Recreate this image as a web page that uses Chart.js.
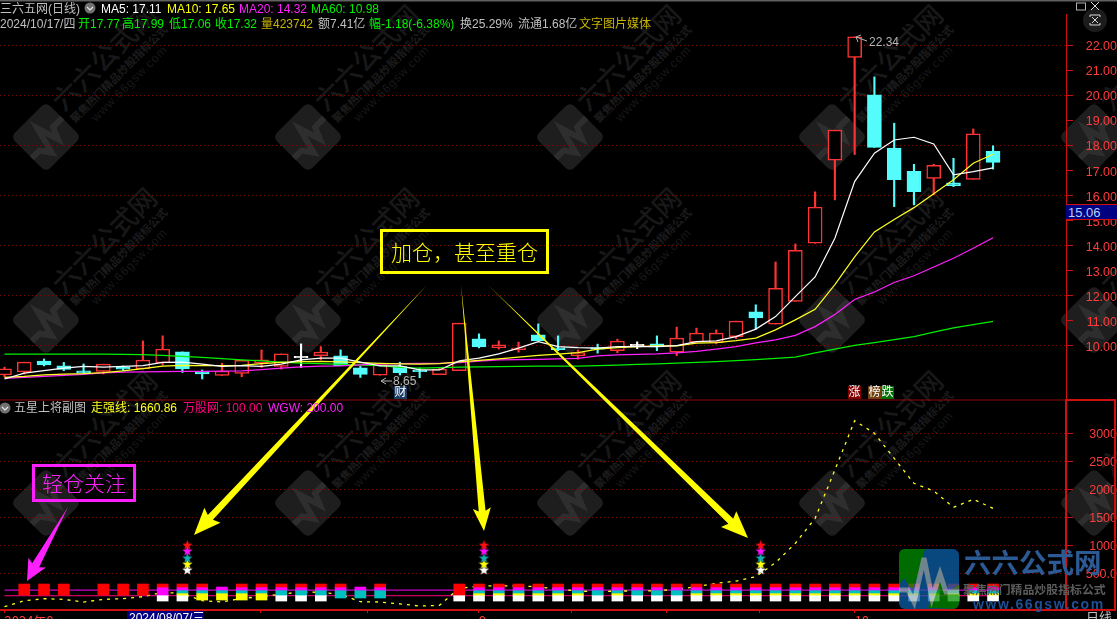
<!DOCTYPE html>
<html>
<head>
<meta charset="utf-8">
<title>三六五网 日线</title>
<script src="https://cdn.jsdelivr.net/npm/chart.js@4/dist/chart.umd.min.js"></script>
<style>
  html, body { margin: 0; padding: 0; background: #000; overflow: hidden; }
  #stage { position: relative; width: 1117px; height: 619px; overflow: hidden; font: 12px "Liberation Sans", "Noto Sans CJK SC", sans-serif; }
  #marks, #watermark, #overlay { position: absolute; left: 0; top: 0; }
  #watermark { z-index: 0; }
  #marks { z-index: 1; }
  #overlay { z-index: 2; pointer-events: none; }
  .t { position: absolute; white-space: nowrap; line-height: 14px; z-index: 3; }
  .badge { position: absolute; width: 13px; height: 13px; line-height: 13px; text-align: center; color: #fff; z-index: 3; }
  .note { position: absolute; box-sizing: border-box; text-align: center; font-size: 21px; font-family: "Noto Sans CJK SC", sans-serif; font-weight: 300; z-index: 3; }
</style>
</head>
<body>
<div id="stage">
  <svg id="watermark" width="1117" height="619"></svg>
  <canvas id="marks" width="1117" height="619"></canvas>
  <svg id="overlay" width="1117" height="619"></svg>
</div>
<script>
/* ---------- Data ---------- */
var opens  = [8.84,8.96,9.39,9.20,9.00,8.98,9.14,9.08,9.32,9.76,8.98,8.82,8.90,9.31,9.18,9.52,9.61,9.60,9.12,8.83,9.17,8.99,8.85,9.01,10.28,9.93,9.85,10.44,9.92,9.61,9.93,9.81,10.00,10.08,9.75,10.15,10.13,10.37,11.36,10.87,11.78,14.10,17.41,21.52,20.02,17.90,16.97,16.69,16.51,16.65,17.77];
var highs  = [9.15,9.35,9.48,9.34,9.28,9.27,9.20,10.20,10.40,9.76,9.04,9.31,9.42,9.84,9.68,10.08,9.97,9.84,9.18,9.25,9.35,9.12,9.11,10.91,10.48,10.20,10.15,10.88,10.40,9.84,10.07,10.27,10.16,10.40,10.75,10.71,10.64,10.99,11.64,13.35,14.07,16.15,18.62,22.34,20.74,18.89,17.25,17.25,17.49,18.66,17.99];
var lows   = [8.77,8.87,9.20,9.01,8.91,8.88,9.01,9.08,9.24,8.94,8.68,8.82,8.77,9.14,9.07,9.14,9.44,9.21,8.74,8.83,8.84,8.73,8.85,9.01,9.92,9.87,9.75,10.20,9.81,9.47,9.71,9.73,9.89,9.81,9.61,10.15,10.08,10.29,10.67,10.87,11.78,14.10,15.83,17.64,17.92,15.56,15.63,16.03,16.36,16.65,17.06];
var closes = [9.08,9.35,9.24,9.06,8.91,9.27,9.07,9.43,9.87,9.08,8.88,8.99,9.42,9.44,9.68,9.52,9.75,9.21,8.86,9.25,8.93,8.97,9.07,10.91,9.96,10.04,9.92,10.20,9.85,9.73,9.87,10.19,10.00,9.96,10.31,10.51,10.51,10.99,11.12,12.30,13.82,15.54,18.62,22.34,17.92,16.64,16.16,17.21,16.40,18.47,17.32];

var ma5  = [8.68,8.91,9.01,9.11,9.18,9.15,9.18,9.21,9.34,9.35,9.27,9.18,9.21,9.18,9.27,9.44,9.51,9.51,9.35,9.20,9.20,9.04,9.04,9.40,9.51,9.68,9.91,10.17,9.97,9.93,9.91,9.97,9.97,9.97,10.01,10.17,10.20,10.37,10.67,11.17,11.97,12.75,14.30,16.56,17.69,18.22,18.33,18.06,16.83,16.96,17.11];
var ma10 = [8.74,8.78,8.84,8.87,8.89,8.93,9.00,9.09,9.19,9.22,9.21,9.21,9.22,9.29,9.34,9.37,9.38,9.36,9.33,9.30,9.28,9.27,9.29,9.36,9.42,9.48,9.55,9.62,9.67,9.73,9.87,9.93,9.97,10.00,10.00,10.11,10.13,10.21,10.31,10.64,11.04,11.46,12.45,13.55,14.55,15.05,15.52,16.07,16.63,17.29,17.65];
var ma20 = [8.70,8.74,8.78,8.82,8.86,8.92,8.95,8.96,8.97,8.98,8.98,8.99,9.00,9.05,9.11,9.16,9.19,9.20,9.24,9.28,9.29,9.30,9.30,9.33,9.39,9.44,9.45,9.46,9.48,9.50,9.60,9.64,9.66,9.68,9.72,9.78,9.87,9.97,10.12,10.24,10.42,10.77,11.25,11.85,12.15,12.53,12.80,13.15,13.50,13.90,14.32];
var ma60 = [9.67,9.67,9.67,9.67,9.67,9.67,9.66,9.65,9.62,9.58,9.54,9.49,9.44,9.40,9.35,9.31,9.29,9.26,9.23,9.21,9.14,9.11,9.13,9.15,9.16,9.17,9.18,9.19,9.19,9.19,9.21,9.23,9.26,9.28,9.31,9.34,9.37,9.41,9.45,9.50,9.55,9.72,9.87,10.02,10.13,10.25,10.37,10.55,10.72,10.85,10.98];

var strongLine = [-96,11,47,35,-13,35,47,83,160,140,11,-13,53,83,130,166,160,124,-7,-13,-45,-84,-72,231,273,279,273,261,213,184,172,184,184,190,213,261,321,362,440,690,1036,1482,2345,3226,3000,2553,2107,1970,1678,1821,1661];
var wgwLevel = 200;
var gufenLevel = 100;

// which stack of colour bands each column shows
var squareKinds = ["","R","R","R","","R","R","R","A","B","C","D","C","C","E","E","E","F","G","F","","","","H","B","B","B","B","B","B","E","B","E","E","E","B","B","B","B","B","B","B","B","B","B","B","B","B","B","B","B"];
var bandEdges = { top: 309, red: 255, magenta: 202, cyan: 148, mid: 112, low: 59, yellow: 23, bottom: 5 };

var starColumns = [9.25, 24.25, 38.25];
var starRed = [1000, 1000, 1000];
var starMagenta = [893, 893, 893];
var starCyan = [768, 768, 768];
var starYellow = [660, 660, 660];
var starWhite = [554, 554, 554];

var priceTicks = [10, 11, 12, 13, 14, 15, 16, 17, 18, 19, 20, 21, 22];
var subTicks = [500, 1000, 1500, 2000, 2500, 3000];
var dateTicks = [0, 6.3, 12.97, 18.37, 24, 28.7, 33.5, 38.2, 43];
var dateLabels = ["2024年8", "", "", "", "9", "", "", "", "10"];

/* ---------- Colours ---------- */
var upRed = "#ff3333";
var downCyan = "#54fcfc";
var axisRed = "#ff3c3c";
var gridRed = "#7a0a0a";

function candleColor(i) {
  if (closes[i] > opens[i]) return upRed;
  if (closes[i] < opens[i]) return downCyan;
  return "#ffffff";
}

function series(values) {
  return values.map(function (v, i) { return { x: i, y: v }; });
}

// bars for one colour band: each kind gives its [from, to] or nothing
function bandSeries(table) {
  var out = [];
  squareKinds.forEach(function (k, i) {
    if (table[k]) out.push({ x: i, y: table[k] });
  });
  return out;
}

function starPoints(values) {
  return values.map(function (v, i) { return { x: starColumns[i], y: v }; });
}

function starImage(color) {
  var c = document.createElement("canvas");
  c.width = c.height = 11;
  var g = c.getContext("2d");
  g.fillStyle = color;
  g.beginPath();
  for (var k = 0; k < 10; k++) {
    var r = k % 2 ? 2.2 : 5.4;
    var a = -Math.PI / 2 + k * Math.PI / 5;
    g.lineTo(5.5 + r * Math.cos(a), 5.5 + r * Math.sin(a));
  }
  g.closePath();
  g.fill();
  return c;
}

function lineSet(values, color, width, order) {
  return { type: "line", data: series(values), borderColor: color, borderWidth: width, pointRadius: 0, tension: 0, yAxisID: "y", order: order };
}

function bandSet(table, color) {
  return { type: "bar", data: bandSeries(table), backgroundColor: color, borderWidth: 0, barThickness: 11, grouped: false, yAxisID: "ySub", order: 12 };
}

function starSet(values, color) {
  return { type: "line", data: starPoints(values), showLine: false, pointStyle: starImage(color), pointRadius: 5, yAxisID: "ySub", order: 10 };
}

var e = bandEdges;
var datasets = [
  // main pane
  { type: "bar", data: series(closes).map(function (p, i) { return { x: i, y: [lows[i], highs[i]] }; }),
    backgroundColor: function (ctx) { return candleColor(ctx.dataIndex); },
    borderWidth: 0, barThickness: 1.5, grouped: false, yAxisID: "y", order: 6 },
  { type: "bar", data: series(closes).map(function (p, i) { return { x: i, y: [opens[i], closes[i]] }; }),
    backgroundColor: function (ctx) { var i = ctx.dataIndex; return closes[i] > opens[i] ? "#000000" : candleColor(i); },
    borderColor: function (ctx) { return candleColor(ctx.dataIndex); },
    borderWidth: 1.5, borderSkipped: false, barThickness: 14, minBarLength: 1.5, grouped: false, yAxisID: "y", order: 5 },
  lineSet(ma60, "#00f000", 1.2, 4),
  lineSet(ma20, "#ff20ff", 1.2, 3),
  lineSet(ma10, "#ffff20", 1.2, 2),
  lineSet(ma5, "#ffffff", 1.2, 1),
  // sub pane
  starSet(starRed, "#ff1010"),
  starSet(starMagenta, "#ff10ff"),
  starSet(starCyan, "#10b0b0"),
  starSet(starYellow, "#ffff10"),
  starSet(starWhite, "#ffffff"),
  bandSet({ R: [e.mid, e.top], A: [e.red, e.top], B: [e.red, e.top], C: [e.red, e.top], E: [e.red, e.top], F: [e.red, e.top], H: [e.mid, e.top] }, "#ff0000"),
  bandSet({ A: [e.mid, e.red], B: [e.magenta, e.red], C: [e.magenta, e.red], D: [e.magenta, e.red], E: [e.magenta, e.red], F: [e.magenta, e.red], G: [e.magenta, e.red] }, "#ff00ff"),
  bandSet({ B: [e.cyan, e.magenta], C: [e.cyan, e.magenta], D: [e.cyan, e.magenta], E: [e.mid, e.magenta], F: [e.low, e.magenta], G: [e.low, e.magenta] }, "#00c0c0"),
  bandSet({ B: [e.mid, e.cyan], C: [e.yellow, e.cyan], D: [e.yellow, e.cyan] }, "#ffff00"),
  bandSet({ A: [e.bottom, e.mid], B: [e.bottom, e.mid], E: [e.bottom, e.mid], H: [e.bottom, e.mid] }, "#ffffff"),
  { type: "line", data: series(strongLine), borderColor: "#ffff20", borderWidth: 1.3, borderDash: [3, 5], pointRadius: 0, yAxisID: "ySub", order: 14 },
  { type: "line", data: [{ x: 0, y: wgwLevel }, { x: 50, y: wgwLevel }], borderColor: "#ff00ff", borderWidth: 1, pointRadius: 0, yAxisID: "ySub", order: 15 },
  { type: "line", data: [{ x: 0, y: gufenLevel }, { x: 50, y: gufenLevel }], borderColor: "#ff0080", borderWidth: 1, pointRadius: 0, yAxisID: "ySub", order: 15 }
];

function noPadding(s) {
  s.paddingLeft = s.paddingRight = s.paddingTop = s.paddingBottom = 0;
}

function paneTicks(format) {
  return { color: axisRed, padding: 8, labelOffset: 1.5, autoSkip: false, crossAlign: "far", font: { family: "Liberation Sans", size: 12.5 }, callback: format };
}

function paneAxis(extra) {
  var base = {
    type: "linear",
    position: "right",
    stack: "panes",
    afterFit: function (s) { s.width = 51; noPadding(s); },
    border: { color: "#d01010", width: 1, dash: [1, 3] }
  };
  return Object.assign(base, extra);
}

new Chart(document.getElementById("marks"), {
  type: "bar",
  data: { datasets: datasets },
  options: {
    responsive: false,
    animation: false,
    devicePixelRatio: 1,
    parsing: { xAxisKey: "x", yAxisKey: "y" },
    layout: { autoPadding: false, padding: { top: 14, left: 0, right: 0, bottom: 0 } },
    plugins: { legend: { display: false }, tooltip: { enabled: false } },
    scales: {
      x: {
        type: "linear",
        offset: false,
        min: -0.227,
        max: 53.69,
        afterFit: function (s) { s.height = 9; noPadding(s); },
        afterBuildTicks: function (s) { s.ticks = dateTicks.map(function (v) { return { value: v }; }); },
        border: { color: "#d01010", width: 2 },
        grid: { offset: false, drawOnChartArea: false, color: "#d01010", tickLength: 3 },
        ticks: {
          color: axisRed, autoSkip: false, maxRotation: 0, align: "start", padding: 0,
          font: { family: "Noto Sans CJK SC", size: 13 },
          callback: function (v, idx) { return dateLabels[idx]; }
        }
      },
      y: paneAxis({
        stackWeight: 386,
        min: 7.84,
        max: 23.25,
        afterBuildTicks: function (s) { s.ticks = priceTicks.map(function (v) { return { value: v }; }); },
        grid: {
          tickLength: 7,
          tickColor: "#d01010",
          color: function (ctx) { return ctx.tick && ctx.tick.value % 2 === 0 ? gridRed : "transparent"; }
        },
        ticks: paneTicks(function (v) { return v.toFixed(2); })
      }),
      ySub: paneAxis({
        stackWeight: 210,
        min: -155,
        max: 3595,
        afterBuildTicks: function (s) { s.ticks = subTicks.map(function (v) { return { value: v }; }); },
        grid: { tickLength: 7, tickColor: "#d01010", color: gridRed },
        ticks: paneTicks(function (v) { return v === 500 ? "500.0" : String(v); })
      })
    }
  }
});

/* ---------- Text over the chart ---------- */
var stage = document.getElementById("stage");

function addText(text, left, top, color, size) {
  var el = document.createElement("span");
  el.className = "t";
  el.textContent = text;
  el.style.left = left + "px";
  el.style.top = top + "px";
  el.style.color = color;
  if (size) el.style.fontSize = size + "px";
  stage.appendChild(el);
  return el;
}

var headerOne = [
  ["三六五网(日线)", 0, "#c0c0c0"], ["MA5: 17.11", 101, "#ffffff"], ["MA10: 17.65", 167, "#ffff00"],
  ["MA20: 14.32", 239, "#ff20ff"], ["MA60: 10.98", 311, "#00f000"]
];
var headerTwo = [
  ["2024/10/17/四", 0, "#c0c0c0"], ["开17.77", 78, "#00f000"], ["高17.99", 122, "#00f000"], ["低17.06", 169, "#00f000"],
  ["收17.32", 215, "#00f000"], ["量423742", 261, "#c8b400"], ["额7.41亿", 318, "#c0c0c0"], ["幅-1.18(-6.38%)", 369, "#00f000"],
  ["换25.29%", 460, "#c0c0c0"], ["流通1.68亿", 518, "#c0c0c0"], ["文字图片媒体", 579, "#c8b400"]
];
var headerSub = [
  ["五星上将副图", 14, "#c0c0c0"], ["走强线: 1660.86", 91, "#ffff20"], ["万股网: 100.00", 183, "#ff0080"], ["WGW: 200.00", 268, "#ff20ff"]
];
headerOne.forEach(function (h) { addText(h[0], h[1], 2, h[2]); });
headerTwo.forEach(function (h) { addText(h[0], h[1], 17, h[2]); });
headerSub.forEach(function (h) { addText(h[0], h[1], 401, h[2]); });

addText("22.34", 869, 35, "#b4b4b4");
addText("8.65", 393, 374, "#b4b4b4");
addText("2024/08/07/三", 127, 611, "#ffffff").style.cssText += "background:#000080;width:77px;height:10px;padding-left:2px;box-sizing:border-box;";
addText("日线", 1086, 611, "#c0c0c0", 13);
addText("15.06", 1066, 204, "#b8d0ff", 13).style.cssText += "background:#000080;width:51px;height:16px;line-height:15px;border-top:1px solid #d01010;border-bottom:1px solid #d01010;box-sizing:border-box;padding-left:2px;";

[["财", 394, 386, "#1c3c64"], ["涨", 848, 386, "#800000"], ["榜", 868, 386, "#704010"], ["跌", 881, 386, "#007000"]].forEach(function (b) {
  var el = document.createElement("span");
  el.className = "badge";
  el.textContent = b[0];
  el.style.left = b[1] + "px";
  el.style.top = b[2] + "px";
  el.style.background = b[3];
  stage.appendChild(el);
});

function addNote(text, left, top, w, h, color) {
  var el = document.createElement("div");
  el.className = "note";
  el.textContent = text;
  el.style.cssText += "left:" + left + "px;top:" + top + "px;width:" + w + "px;height:" + h + "px;line-height:" + (h - 7) + "px;color:" + color + ";border:3px solid " + color + ";";
  stage.appendChild(el);
}
addNote("加仓，甚至重仓", 380, 229, 169, 45, "#ffff00");
addNote("轻仓关注", 32, 464, 104, 38, "#ff20ff");

/* ---------- Arrows, frame and logo ---------- */
function arrowPoints(x1, y1, x2, y2, shaft, headLen, headWide) {
  var len = Math.sqrt((x2 - x1) * (x2 - x1) + (y2 - y1) * (y2 - y1));
  var ux = (x2 - x1) / len, uy = (y2 - y1) / len;
  var nx = -uy, ny = ux;
  var bx = x2 - ux * headLen, by = y2 - uy * headLen;
  var pts = [
    [x1, y1],
    [bx + nx * shaft / 2, by + ny * shaft / 2],
    [bx + nx * headWide / 2 - ux * 3, by + ny * headWide / 2 - uy * 3],
    [x2, y2],
    [bx - nx * headWide / 2 - ux * 3, by - ny * headWide / 2 - uy * 3],
    [bx - nx * shaft / 2, by - ny * shaft / 2]
  ];
  return pts.map(function (p) { return p[0].toFixed(1) + "," + p[1].toFixed(1); }).join(" ");
}

function chevronIcon(cx, cy) {
  return '<circle cx="' + cx + '" cy="' + cy + '" r="5.5" fill="#707070"/>' +
    '<path d="M' + (cx - 3) + ' ' + (cy - 1) + ' l3 3 l3 -3" fill="none" stroke="#e8e8e8" stroke-width="1.2"/>';
}

var overlay = "";
overlay += '<rect x="0" y="0" width="1117" height="1.5" fill="#606060"/>';
overlay += '<line x1="0" y1="400" x2="1066" y2="400" stroke="#900808" stroke-width="1"/>';
overlay += '<rect x="1066" y="400" width="49" height="210" fill="none" stroke="#d01010" stroke-width="2"/>';
overlay += '<polygon points="' + arrowPoints(427, 285, 194, 535, 7, 24, 22) + '" fill="#ffff00"/>';
overlay += '<polygon points="' + arrowPoints(461, 285, 484, 531, 7, 20, 18) + '" fill="#ffff00"/>';
overlay += '<polygon points="' + arrowPoints(487, 284, 748, 538, 7, 24, 22) + '" fill="#ffff00"/>';
overlay += '<polygon points="' + arrowPoints(68, 507, 27, 581, 8, 18, 20) + '" fill="#ff20ff"/>';
overlay += '<path d="M392 381 H381 M381 381 l5 -3 M381 381 l5 3" stroke="#b4b4b4" fill="none"/>';
overlay += '<path d="M867 41 L856 37 M856 37 l5 -2 M856 37 l2 5" stroke="#b4b4b4" fill="none"/>';
overlay += chevronIcon(90, 8) + chevronIcon(5, 408);
// window icons, top right
overlay += '<circle cx="1095" cy="20" r="12" fill="#1c1c1c"/>';
overlay += '<rect x="1076.5" y="3" width="9" height="7" fill="none" stroke="#b0b0b0"/>';
overlay += '<path d="M1091 2 L1099 10 M1099 2 L1091 10" stroke="#e0e0e0"/>';
overlay += '<path d="M1090 17 V15 H1100 V17 M1090 23 V25 H1100 V23 M1092 17 L1098 23 M1098 17 L1092 23" fill="none" stroke="#d8d8d8"/>';
// site logo, bottom right
overlay += '<g opacity="0.75"><clipPath id="lc"><rect x="899" y="549" width="60" height="60" rx="6"/></clipPath><g clip-path="url(#lc)">';
overlay += '<rect x="899" y="549" width="60" height="60" fill="#0d60a8"/>';
overlay += '<polygon points="899,549 925,549 918,575 912,590 904,578 899,585" fill="#009000"/>';
overlay += '<polygon points="928,608 938,578 944,590 950,590 959,585 959,609" fill="#009000"/>';
overlay += '<polyline points="899,590 908,590 914,602 924,558 932,598 940,574 946,592 959,592" fill="none" stroke="#b8c4c8" stroke-width="5" opacity="0.8"/>';
overlay += '</g></g>';
overlay += '<text x="964" y="573" font-family="Noto Sans CJK SC" font-weight="700" font-size="27.5" fill="#2c5a94">六六公式网</text>';
overlay += '<text x="963" y="594" font-family="Noto Sans CJK SC" font-weight="700" font-size="11.9" fill="#5c5c5c">聚焦热门精品炒股指标公式</text>';
overlay += '<text x="973" y="609" font-family="Liberation Sans" font-weight="700" font-size="14" letter-spacing="1.6" fill="#1e5096">www.66gsw.com</text>';
document.getElementById("overlay").innerHTML = overlay;

/* ---------- Background watermark ---------- */
var markCols = [46, 308, 570, 832, 1094];
var markRows = [137, 320, 503];
var wm = "";
markRows.forEach(function (cy) {
  markCols.forEach(function (cx) {
    wm += '<g transform="translate(' + cx + ' ' + cy + ') rotate(-45)">';
    wm += '<rect x="-25" y="-25" width="50" height="50" rx="6" fill="#1e1e1e"/>';
    wm += '<polyline points="-25,5 -14,5 -7,15 0,-12 7,10 12,-2 25,-2" fill="none" stroke="#2e2e2e" stroke-width="6"/>';
    wm += '<text x="30" y="-5" font-family="Noto Sans CJK SC" font-weight="500" font-size="27" fill="#181818">六六公式网</text>';
    wm += '<text x="30" y="11" font-family="Noto Sans CJK SC" font-weight="700" font-size="11" fill="#1c1c1c">聚焦热门精品炒股指标公式</text>';
    wm += '<text x="46" y="25" font-family="Liberation Sans" font-size="12" letter-spacing="1" fill="#181818">www.66gsw.com</text>';
    wm += '</g>';
  });
});
document.getElementById("watermark").innerHTML = wm;
</script>
</body>
</html>
